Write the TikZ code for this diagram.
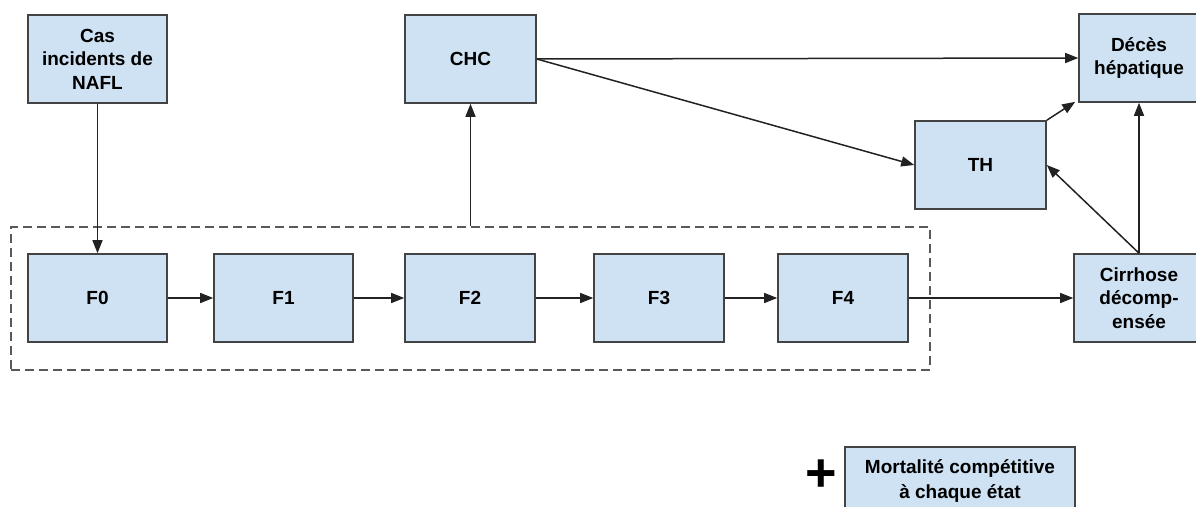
\documentclass[tikz,border=0pt]{standalone}
\usepackage{fontspec}
\setmainfont{Liberation Sans}
\usetikzlibrary{arrows.meta,calc}
\definecolor{boxfill}{HTML}{CFE2F3}
\definecolor{boxline}{HTML}{434343}
\definecolor{dashline}{HTML}{595959}
\definecolor{conn}{HTML}{222222}
\tikzset{
  state/.style={draw=boxline, line width=1.6pt, fill=boxfill, inner sep=0pt,
    align=center, text=black, font=\bfseries\fontsize{19}{23.5}\selectfont},
  conn/.style={draw=conn, line width=1.5pt, -{Triangle[length=13pt,width=10pt]}},
  group/.style={draw=dashline, line width=1.6pt, dash pattern=on 9pt off 5pt, inner sep=0pt}
}
\begin{document}
\begin{tikzpicture}[x=1pt,y=-1pt]
\useasboundingbox (0,0) rectangle (1196,506);
% dashed group
\node[group, minimum width=919pt, minimum height=143pt] (grp) at (470.5,298.5) {};
% states
\node[state, minimum width=139pt, minimum height=88pt] (cas) at (97.5,59) {Cas\\incidents de\\NAFL};
\node[state, minimum width=139pt, minimum height=88pt] (f0) at (97.5,298) {F0};
\node[state, minimum width=139pt, minimum height=88pt] (f1) at (283.5,298) {F1};
\node[state, minimum width=130pt, minimum height=88pt] (f2) at (470,298) {F2};
\node[state, minimum width=130pt, minimum height=88pt] (f3) at (659,298) {F3};
\node[state, minimum width=130pt, minimum height=88pt] (f4) at (843,298) {F4};
\node[state, minimum width=131pt, minimum height=88pt] (chc) at (470.5,59) {CHC};
\node[state, minimum width=131pt, minimum height=88pt] (th) at (980.5,165) {TH};
\node[state, minimum width=120pt, minimum height=88pt] (deces) at (1139,58) {Décès\\hépatique};
\node[state, minimum width=130pt, minimum height=88pt] (cirr) at (1139,298) {Cirrhose\\décomp-\\ensée};
\node[state, minimum width=230pt, minimum height=68pt, font=\bfseries\fontsize{19}{25}\selectfont] (mort) at (960,481) {Mortalité compétitive\\à chaque état};
\node[inner sep=0pt, font=\bfseries\fontsize{54}{54}\selectfont] (plus) at (821,476) {+};
% connectors
\draw[conn] (cas.south) -- (f0.north);
\draw[conn] (f0.east) -- (f1.west);
\draw[conn] (f1.east) -- (f2.west);
\draw[conn] (f2.east) -- (f3.west);
\draw[conn] (f3.east) -- (f4.west);
\draw[conn] (f4.east) -- (cirr.west);
\draw[conn] (chc.south |- grp.north) -- (chc.south);
\draw[conn] (chc.east) -- (deces.west);
\draw[conn] (chc.east) -- (th.west);
\draw[conn] (th.north east) -- ($(deces.south west)+(-3,-1)$);
\draw[conn] (cirr.north) -- (deces.south);
\draw[conn] (cirr.north) -- (th.east);
\end{tikzpicture}
\end{document}
